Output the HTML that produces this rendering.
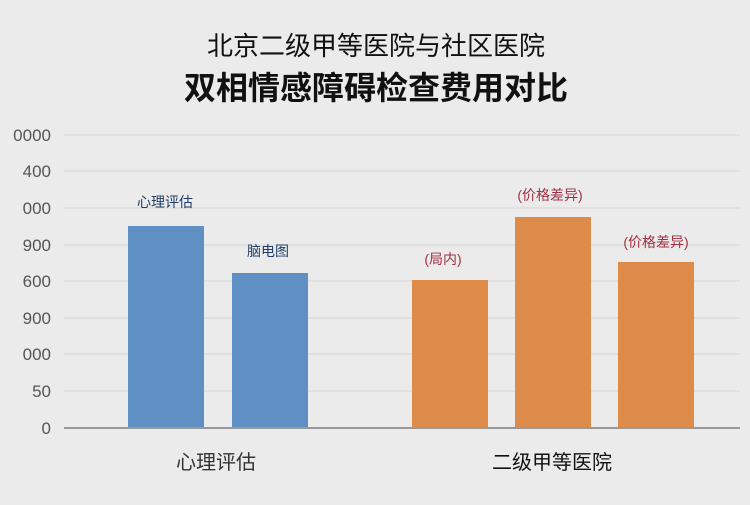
<!DOCTYPE html>
<html><head><meta charset="utf-8"><style>
body{margin:0;background:#ebebeb;}
svg text{font-family:"Liberation Sans","Noto Sans CJK SC",sans-serif;}
</style></head><body>
<svg width="750" height="500" xmlns="http://www.w3.org/2000/svg">
<rect width="750" height="500" fill="#ebebeb"/>
<text x="376" y="55" text-anchor="middle" font-size="26" fill="#111">北京二级甲等医院与社区医院</text>
<text x="376" y="99" text-anchor="middle" font-size="32" font-weight="bold" fill="#111">双相情感障碍检查费用对比</text>
<g stroke="#d6d6d6" stroke-width="1">
<line x1="64" y1="135" x2="740" y2="135"/><line x1="64" y1="171" x2="740" y2="171"/>
<line x1="64" y1="208" x2="740" y2="208"/><line x1="64" y1="245" x2="740" y2="245"/>
<line x1="64" y1="281" x2="740" y2="281"/><line x1="64" y1="318" x2="740" y2="318"/>
<line x1="64" y1="354" x2="740" y2="354"/><line x1="64" y1="391" x2="740" y2="391"/>
</g>
<g font-size="17" fill="#555" text-anchor="end">
<text x="51" y="141">0000</text><text x="51" y="177">400</text><text x="51" y="214">000</text>
<text x="51" y="251">900</text><text x="51" y="287">600</text><text x="51" y="324">900</text>
<text x="51" y="360">000</text><text x="51" y="397">50</text><text x="51" y="434">0</text>
</g>
<rect x="128" y="226" width="76" height="202" fill="#5e90c3"/>
<rect x="232" y="273" width="76" height="155" fill="#5e90c3"/>
<rect x="412" y="280" width="76" height="148" fill="#de8a48"/>
<rect x="515" y="217" width="76" height="211" fill="#de8a48"/>
<rect x="618" y="262" width="76" height="166" fill="#de8a48"/>
<line x1="64" y1="428" x2="740" y2="428" stroke="#999" stroke-width="2"/>
<g font-size="14" text-anchor="middle">
<text x="165" y="207" fill="#1f3d66">心理评估</text>
<text x="268" y="256" fill="#1f3d66">脑电图</text>
<text x="443" y="264" fill="#a03040">(局内)</text>
<text x="550" y="200" fill="#a03040">(价格差异)</text>
<text x="656" y="247" fill="#a03040">(价格差异)</text>
</g>
<text x="216" y="469" text-anchor="middle" font-size="20" fill="#333">心理评估</text>
<text x="552" y="469" text-anchor="middle" font-size="20" fill="#111">二级甲等医院</text>
</svg>
</body></html>
